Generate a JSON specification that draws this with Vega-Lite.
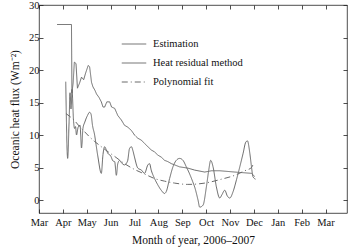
{
  "$schema": "https://vega.github.io/schema/vega-lite/v6.json",
  "width": 308,
  "height": 208,
  "autosize": {"type": "none"},
  "padding": {"left": 39, "top": 5, "right": 3, "bottom": 37},
  "background": "white",
  "config": {
    "view": {"stroke": "#222", "strokeWidth": 0.8},
    "font": "Liberation Serif",
    "axis": {
      "domain": false, "grid": false, "tickColor": "#222", "tickWidth": 0.8,
      "labelFont": "Liberation Serif", "labelFontSize": 10.5, "labelColor": "#111",
      "titleFont": "Liberation Serif", "titleFontSize": 11.5, "titleFontWeight": "normal", "titleColor": "#111"
    }
  },
  "data": {"values": [
    {"series": "Estimation", "month": 3.76, "flux": 27},
    {"series": "Estimation", "month": 4.36, "flux": 27},
    {"series": "Estimation", "month": 4.38, "flux": 16.5},
    {"series": "Estimation", "month": 4.43, "flux": 18},
    {"series": "Estimation", "month": 4.48, "flux": 21.2},
    {"series": "Estimation", "month": 4.55, "flux": 21},
    {"series": "Estimation", "month": 4.61, "flux": 17.2},
    {"series": "Estimation", "month": 4.70, "flux": 18},
    {"series": "Estimation", "month": 4.78, "flux": 18.9},
    {"series": "Estimation", "month": 4.87, "flux": 18.5},
    {"series": "Estimation", "month": 4.95, "flux": 19.5},
    {"series": "Estimation", "month": 5.06, "flux": 20.7},
    {"series": "Estimation", "month": 5.12, "flux": 20.5},
    {"series": "Estimation", "month": 5.20, "flux": 18.1},
    {"series": "Estimation", "month": 5.26, "flux": 17.4},
    {"series": "Estimation", "month": 5.34, "flux": 16.9},
    {"series": "Estimation", "month": 5.41, "flux": 16.3},
    {"series": "Estimation", "month": 5.51, "flux": 15.8},
    {"series": "Estimation", "month": 5.61, "flux": 15.1},
    {"series": "Estimation", "month": 5.68, "flux": 14.3},
    {"series": "Estimation", "month": 5.75, "flux": 14.3},
    {"series": "Estimation", "month": 5.84, "flux": 15.1},
    {"series": "Estimation", "month": 5.96, "flux": 15.1},
    {"series": "Estimation", "month": 6.04, "flux": 14.3},
    {"series": "Estimation", "month": 6.17, "flux": 14.1},
    {"series": "Estimation", "month": 6.30, "flux": 13},
    {"series": "Estimation", "month": 6.45, "flux": 12.3},
    {"series": "Estimation", "month": 6.58, "flux": 11.5},
    {"series": "Estimation", "month": 6.72, "flux": 11.2},
    {"series": "Estimation", "month": 6.87, "flux": 10.7},
    {"series": "Estimation", "month": 7.00, "flux": 10},
    {"series": "Estimation", "month": 7.14, "flux": 9.5},
    {"series": "Estimation", "month": 7.29, "flux": 9.2},
    {"series": "Estimation", "month": 7.42, "flux": 8.7},
    {"series": "Estimation", "month": 7.56, "flux": 8.2},
    {"series": "Estimation", "month": 7.70, "flux": 7.7},
    {"series": "Estimation", "month": 7.84, "flux": 7.4},
    {"series": "Estimation", "month": 7.98, "flux": 6.9},
    {"series": "Estimation", "month": 8.12, "flux": 6.6},
    {"series": "Estimation", "month": 8.26, "flux": 6.1},
    {"series": "Estimation", "month": 8.40, "flux": 5.9},
    {"series": "Estimation", "month": 8.54, "flux": 5.6},
    {"series": "Estimation", "month": 8.68, "flux": 5.4},
    {"series": "Estimation", "month": 8.89, "flux": 5.1},
    {"series": "Estimation", "month": 9.24, "flux": 4.9},
    {"series": "Estimation", "month": 9.52, "flux": 4.6},
    {"series": "Estimation", "month": 9.94, "flux": 4.3},
    {"series": "Estimation", "month": 10.23, "flux": 4.5},
    {"series": "Estimation", "month": 10.57, "flux": 4.5},
    {"series": "Estimation", "month": 11.20, "flux": 4.3},
    {"series": "Estimation", "month": 11.90, "flux": 4.1},
    {"series": "Estimation", "month": 12.04, "flux": 3.6},

    {"series": "Heat residual method", "month": 4.12, "flux": 18.2},
    {"series": "Heat residual method", "month": 4.20, "flux": 6.4},
    {"series": "Heat residual method", "month": 4.26, "flux": 12},
    {"series": "Heat residual method", "month": 4.30, "flux": 16.5},
    {"series": "Heat residual method", "month": 4.34, "flux": 14},
    {"series": "Heat residual method", "month": 4.38, "flux": 17},
    {"series": "Heat residual method", "month": 4.45, "flux": 12},
    {"series": "Heat residual method", "month": 4.49, "flux": 11},
    {"series": "Heat residual method", "month": 4.53, "flux": 11.3},
    {"series": "Heat residual method", "month": 4.57, "flux": 10},
    {"series": "Heat residual method", "month": 4.64, "flux": 11.2},
    {"series": "Heat residual method", "month": 4.72, "flux": 11.5},
    {"series": "Heat residual method", "month": 4.78, "flux": 8},
    {"series": "Heat residual method", "month": 4.84, "flux": 11},
    {"series": "Heat residual method", "month": 4.92, "flux": 12},
    {"series": "Heat residual method", "month": 5.03, "flux": 13},
    {"series": "Heat residual method", "month": 5.12, "flux": 13.5},
    {"series": "Heat residual method", "month": 5.18, "flux": 13.2},
    {"series": "Heat residual method", "month": 5.24, "flux": 11.5},
    {"series": "Heat residual method", "month": 5.33, "flux": 10},
    {"series": "Heat residual method", "month": 5.39, "flux": 8.5},
    {"series": "Heat residual method", "month": 5.47, "flux": 6.6},
    {"series": "Heat residual method", "month": 5.61, "flux": 4.1},
    {"series": "Heat residual method", "month": 5.68, "flux": 7},
    {"series": "Heat residual method", "month": 5.75, "flux": 8.2},
    {"series": "Heat residual method", "month": 5.81, "flux": 7.8},
    {"series": "Heat residual method", "month": 5.88, "flux": 7.2},
    {"series": "Heat residual method", "month": 6.00, "flux": 6.8},
    {"series": "Heat residual method", "month": 6.10, "flux": 6},
    {"series": "Heat residual method", "month": 6.17, "flux": 5.9},
    {"series": "Heat residual method", "month": 6.24, "flux": 3.8},
    {"series": "Heat residual method", "month": 6.30, "flux": 5.6},
    {"series": "Heat residual method", "month": 6.38, "flux": 6.1},
    {"series": "Heat residual method", "month": 6.46, "flux": 5.7},
    {"series": "Heat residual method", "month": 6.58, "flux": 5.4},
    {"series": "Heat residual method", "month": 6.71, "flux": 6},
    {"series": "Heat residual method", "month": 6.79, "flux": 7.9},
    {"series": "Heat residual method", "month": 6.87, "flux": 8.2},
    {"series": "Heat residual method", "month": 6.94, "flux": 7.5},
    {"series": "Heat residual method", "month": 7.00, "flux": 6.6},
    {"series": "Heat residual method", "month": 7.14, "flux": 4.9},
    {"series": "Heat residual method", "month": 7.29, "flux": 4.6},
    {"series": "Heat residual method", "month": 7.42, "flux": 4.1},
    {"series": "Heat residual method", "month": 7.56, "flux": 5.4},
    {"series": "Heat residual method", "month": 7.63, "flux": 5.6},
    {"series": "Heat residual method", "month": 7.70, "flux": 4.6},
    {"series": "Heat residual method", "month": 7.84, "flux": 3.3},
    {"series": "Heat residual method", "month": 7.98, "flux": 2.3},
    {"series": "Heat residual method", "month": 8.12, "flux": 1.5},
    {"series": "Heat residual method", "month": 8.26, "flux": 1.0},
    {"series": "Heat residual method", "month": 8.33, "flux": 1.3},
    {"series": "Heat residual method", "month": 8.47, "flux": 3.3},
    {"series": "Heat residual method", "month": 8.61, "flux": 5.1},
    {"series": "Heat residual method", "month": 8.75, "flux": 6.1},
    {"series": "Heat residual method", "month": 8.89, "flux": 6.4},
    {"series": "Heat residual method", "month": 9.03, "flux": 6.1},
    {"series": "Heat residual method", "month": 9.17, "flux": 5.1},
    {"series": "Heat residual method", "month": 9.31, "flux": 4.0},
    {"series": "Heat residual method", "month": 9.44, "flux": 2.8},
    {"series": "Heat residual method", "month": 9.52, "flux": 2},
    {"series": "Heat residual method", "month": 9.66, "flux": 0},
    {"series": "Heat residual method", "month": 9.73, "flux": -1.1},
    {"series": "Heat residual method", "month": 9.87, "flux": -0.8},
    {"series": "Heat residual method", "month": 10.01, "flux": 2},
    {"series": "Heat residual method", "month": 10.11, "flux": 4.6},
    {"series": "Heat residual method", "month": 10.19, "flux": 6.1},
    {"series": "Heat residual method", "month": 10.29, "flux": 5.1},
    {"series": "Heat residual method", "month": 10.43, "flux": 2},
    {"series": "Heat residual method", "month": 10.57, "flux": 0.3},
    {"series": "Heat residual method", "month": 10.66, "flux": 0.8},
    {"series": "Heat residual method", "month": 10.78, "flux": 1.5},
    {"series": "Heat residual method", "month": 10.89, "flux": 0.6},
    {"series": "Heat residual method", "month": 10.99, "flux": 0.3},
    {"series": "Heat residual method", "month": 11.13, "flux": 1.3},
    {"series": "Heat residual method", "month": 11.27, "flux": 3.1},
    {"series": "Heat residual method", "month": 11.41, "flux": 5.1},
    {"series": "Heat residual method", "month": 11.55, "flux": 7.2},
    {"series": "Heat residual method", "month": 11.66, "flux": 8.9},
    {"series": "Heat residual method", "month": 11.73, "flux": 9.1},
    {"series": "Heat residual method", "month": 11.83, "flux": 7.2},
    {"series": "Heat residual method", "month": 11.90, "flux": 5.1},
    {"series": "Heat residual method", "month": 11.96, "flux": 3.6},
    {"series": "Heat residual method", "month": 12.07, "flux": 3.2},

    {"series": "Polynomial fit", "month": 4.13, "flux": 13.3},
    {"series": "Polynomial fit", "month": 4.49, "flux": 12.2},
    {"series": "Polynomial fit", "month": 4.70, "flux": 11.3},
    {"series": "Polynomial fit", "month": 4.91, "flux": 10.5},
    {"series": "Polynomial fit", "month": 5.12, "flux": 9.7},
    {"series": "Polynomial fit", "month": 5.33, "flux": 9.0},
    {"series": "Polynomial fit", "month": 5.54, "flux": 8.4},
    {"series": "Polynomial fit", "month": 5.75, "flux": 7.8},
    {"series": "Polynomial fit", "month": 6.17, "flux": 6.7},
    {"series": "Polynomial fit", "month": 6.58, "flux": 5.6},
    {"series": "Polynomial fit", "month": 7.00, "flux": 4.7},
    {"series": "Polynomial fit", "month": 7.42, "flux": 4.0},
    {"series": "Polynomial fit", "month": 7.84, "flux": 3.3},
    {"series": "Polynomial fit", "month": 8.26, "flux": 2.9},
    {"series": "Polynomial fit", "month": 8.68, "flux": 2.6},
    {"series": "Polynomial fit", "month": 9.23, "flux": 2.4},
    {"series": "Polynomial fit", "month": 9.94, "flux": 2.6},
    {"series": "Polynomial fit", "month": 10.64, "flux": 3.2},
    {"series": "Polynomial fit", "month": 11.20, "flux": 3.8},
    {"series": "Polynomial fit", "month": 11.62, "flux": 4.5},
    {"series": "Polynomial fit", "month": 11.90, "flux": 5.0},
    {"series": "Polynomial fit", "month": 12.00, "flux": 5.8}
  ]},
  "layer": [
    {
      "transform": [{"filter": "datum.series === 'Estimation'"}],
      "mark": {"type": "line", "strokeWidth": 1, "interpolate": "linear"},
      "encoding": {
        "x": {
          "field": "month", "type": "quantitative",
          "scale": {"domain": [3, 15.9], "nice": false, "zero": false},
          "axis": {
            "orient": "bottom", "values": [3,4,5,6,7,8,9,10,11,12,13,14,15],
            "labelExpr": "['Mar','Apr','May','Jun','Jul','Aug','Sep','Oct','Nov','Dec','Jan','Feb','Mar'][datum.value - 3]",
            "tickSize": -4, "labelPadding": 8, "labelFlush": false, "labelOverlap": false,
            "title": "Month of year, 2006–2007", "titlePadding": 7
          }
        },
        "y": {
          "field": "flux", "type": "quantitative",
          "scale": {"domain": [-2, 30], "nice": false, "zero": false},
          "axis": {
            "orient": "left", "values": [0,5,10,15,20,25,30],
            "tickSize": -4, "labelPadding": 4, "labelFlush": false, "labelOverlap": false,
            "title": "Oceanic heat flux (Wm⁻²)", "titlePadding": 8
          }
        },
        "color": {
          "field": "series", "type": "nominal",
          "scale": {"domain": ["Estimation", "Heat residual method", "Polynomial fit"], "range": ["#6a6a6a", "#6a6a6a", "#6a6a6a"]},
          "legend": {
            "orient": "none", "legendX": 82, "legendY": 26, "title": null,
            "symbolType": "stroke", "symbolSize": 600, "symbolStrokeWidth": 1,
            "labelFont": "Liberation Serif", "labelFontSize": 10.5, "labelColor": "#111", "labelOffset": 6,
            "rowPadding": -6
          }
        },
        "strokeDash": {
          "field": "series", "type": "nominal",
          "scale": {"domain": ["Estimation", "Heat residual method", "Polynomial fit"], "range": [[1, 0], [1, 0], [6, 3, 1, 3]]},
          "legend": {
            "orient": "none", "legendX": 82, "legendY": 26, "title": null,
            "symbolType": "stroke", "symbolSize": 600, "symbolStrokeWidth": 1,
            "labelFont": "Liberation Serif", "labelFontSize": 10.5, "labelColor": "#111", "labelOffset": 6,
            "rowPadding": -6
          }
        }
      }
    },
    {
      "transform": [{"filter": "datum.series !== 'Estimation'"}],
      "mark": {"type": "line", "strokeWidth": 1, "interpolate": "monotone"},
      "encoding": {
        "x": {"field": "month", "type": "quantitative", "scale": {"domain": [3, 15.9], "nice": false, "zero": false}, "axis": null},
        "y": {"field": "flux", "type": "quantitative", "scale": {"domain": [-2, 30], "nice": false, "zero": false}, "axis": null},
        "color": {"field": "series", "type": "nominal"},
        "strokeDash": {"field": "series", "type": "nominal"}
      }
    },
    {
      "mark": {"type": "point", "opacity": 0},
      "encoding": {
        "x": {
          "field": "month", "type": "quantitative",
          "scale": {"domain": [3, 15.9], "nice": false, "zero": false},
          "axis": {"orient": "top", "values": [3,4,5,6,7,8,9,10,11,12,13,14,15], "tickSize": -4, "labels": false, "title": null}
        },
        "y": {
          "field": "flux", "type": "quantitative",
          "scale": {"domain": [-2, 30], "nice": false, "zero": false},
          "axis": {"orient": "right", "values": [0,5,10,15,20,25,30], "tickSize": -4, "labels": false, "title": null}
        }
      }
    }
  ],
  "resolve": {"axis": {"x": "independent", "y": "independent"}}
}
